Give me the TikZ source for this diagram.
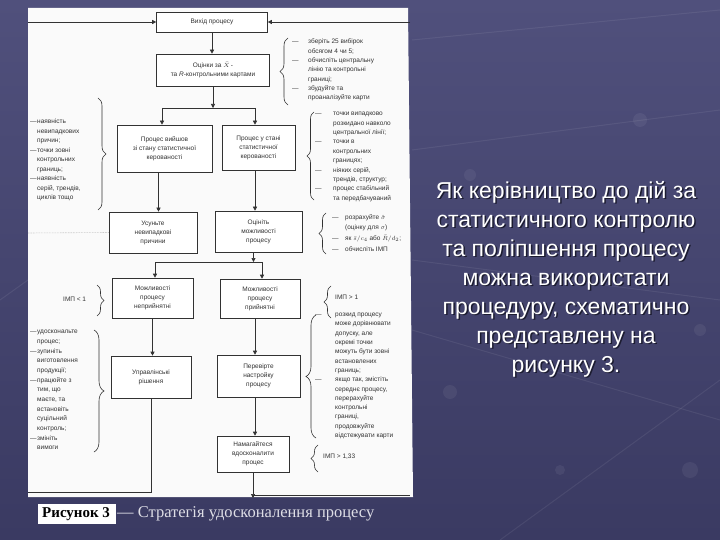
\documentclass[tikz,border=0pt]{standalone}
\usepackage{fontspec}
\setmainfont{Liberation Serif}
\newfontfamily\fcs{Liberation Sans}
\usetikzlibrary{decorations.pathreplacing,arrows.meta}
\definecolor{bgtop}{RGB}{80,80,124}
\definecolor{bgbot}{RGB}{58,58,98}
\definecolor{ink}{RGB}{50,50,50}
\definecolor{paper}{RGB}{250,250,250}
\definecolor{shadowc}{RGB}{28,28,48}
\definecolor{capc}{RGB}{222,222,230}
\newcommand{\fdash}[1]{\makebox[#1][l]{—}}
\newcommand{\findent}[1]{\hspace*{#1}}
\begin{document}
\begin{tikzpicture}[x=1pt,y=-1pt,
  box/.style={draw=ink, line width=0.6pt, fill=white, align=center,
    font=\fcs\fontsize{6.5}{9}\selectfont, text=ink, inner sep=0pt},
  note/.style={align=left, text=ink, inner sep=0pt, anchor=north west},
  arr/.style={draw=ink, line width=0.6pt, -{Triangle[length=4pt,width=4pt]}},
  ln/.style={draw=ink, line width=0.6pt},
  br/.style={draw=ink, line width=0.6pt, decorate, decoration={brace, amplitude=#1}},
  br/.default=8pt,
  deco/.style={draw=white, opacity=0.07, line width=1pt},
  dot/.style={fill=white, opacity=0.06},
]
\useasboundingbox (0,0) rectangle (720,540);
\shade[top color=bgtop, bottom color=bgbot] (0,0) rectangle (720,540);
% faint background pattern
\draw[deco] (412,40) -- (720,10);
\draw[deco] (412,150) -- (720,110);
\draw[deco] (412,260) -- (720,300);
\draw[deco] (412,330) -- (720,420);
\draw[deco] (500,540) -- (720,380);
\draw[deco] (0,300) -- (28,280);
\fill[dot] (470,175) circle (6);
\fill[dot] (640,120) circle (7);
\fill[dot] (700,330) circle (6);
\fill[dot] (450,392) circle (7);
\fill[dot] (690,470) circle (8);
\fill[dot] (560,470) circle (5);
% paper
\fill[paper] (28,8) -- (408,8) -- (413,497) -- (28,497) -- cycle;

% boxes
\node[box, minimum width=111, minimum height=20] (out) at (212,22) {Вихід процесу};
\node[box, minimum width=113, minimum height=32] (est) at (213,70) {Оцінки за $\bar{X}$\,-\\та {\itshape R}-контрольними картами};
\node[box, minimum width=95, minimum height=47] (outc) at (164.5,148.5) {Процес вийшов\\зі стану статистичної\\керованості};
\node[box, minimum width=73, minimum height=45] (inc) at (258.5,147.5) {Процес у стані\\статистичної\\керованості};
\node[box, minimum width=88, minimum height=41] (rem) at (153,232.5) {Усуньте\\невипадкові\\причини};
\node[box, minimum width=87, minimum height=41] (cap) at (258.5,231.5) {Оцініть\\можливості\\процесу};
\node[box, minimum width=81, minimum height=40] (nacc) at (152.5,298) {Можливості\\процесу\\неприйнятні};
\node[box, minimum width=80, minimum height=39] (acc) at (260,298.5) {Можливості\\процесу\\прийнятні};
\node[box, minimum width=80, minimum height=42] (mgmt) at (151,377) {Управлінські\\рішення};
\node[box, minimum width=83, minimum height=42] (chk) at (258.5,376) {Перевірте\\настройку\\процесу};
\node[box, minimum width=72, minimum height=36] (imp) at (253,454) {Намагайтеся\\вдосконалити\\процес};

% connectors
\coordinate (tl) at (28,22);
\coordinate (tr) at (410,22);
\coordinate (j1l) at (162,108);
\coordinate (j1r) at (255,108);
\coordinate (j2l) at (155,262);
\coordinate (j2r) at (262,262);
\coordinate (botl) at (28,492);
\coordinate (botr) at (410,495);
\draw[arr] (tl) -- (out.west);
\draw[arr] (tr) -- (out.east);
\draw[arr] (out.south) -- (out.south |- est.north);
\draw[arr] (est.south) -- (est.south |- j1l);
\draw[ln] (j1l) -- (j1r);
\draw[arr] (j1l) -- (j1l |- outc.north);
\draw[arr] (j1r) -- (j1r |- inc.north);
\draw[arr] ([xshift=-6pt]outc.south) -- ([xshift=-6pt]outc.south |- rem.north);
\draw[arr] ([xshift=-3.5pt]inc.south) -- ([xshift=-3.5pt]inc.south |- cap.north);
\draw[arr] ([xshift=-5pt]cap.south) -- ([xshift=-5pt]cap.south |- j2l);
\draw[ln] (j2l) -- (j2r);
\draw[arr] (j2l) -- (j2l |- nacc.north);
\draw[arr] (j2r) -- (j2r |- acc.north);
\draw[arr] (nacc.south) -- (nacc.south |- mgmt.north);
\draw[arr] ([xshift=-5pt]acc.south) -- ([xshift=-5pt]acc.south |- chk.north);
\draw[arr] ([xshift=-3.5pt]chk.south) -- ([xshift=-3.5pt]chk.south |- imp.north);
\draw[ln] (mgmt.south) -- (mgmt.south |- botl) -- (botl);
\draw[arr] (imp.south) -- ([yshift=-3pt]imp.south |- botr);
\draw[ln] (imp.south |- botr) -- (botr);
\draw[draw=gray!60, densely dotted, line width=0.6pt] (rem.west) -- (28,233);

% braces
\draw[br] (288,105) -- (288,38);
\draw[br] (98,98) -- (98,210);
\draw[br=7pt] (314,200) -- (314,112);
\draw[br=7pt] (326,254) -- (326,213);
\draw[br=7pt] (97,285) -- (97,316);
\draw[br=7pt] (331,318) -- (331,286);
\draw[br=10pt] (94,330) -- (94,452);
\draw[br=10pt] (316,438) -- (316,315);
\draw[br=7pt] (318,472) -- (318,445);

% notes
\node[note, font=\fcs\fontsize{6.5}{9.3}\selectfont] (nA) at (292,39)
 {\fdash{16pt}зберіть 25 вибірок\\\findent{16pt}обсягом 4 чи 5;\\\fdash{16pt}обчисліть центральну\\\findent{16pt}лінію та контрольні\\\findent{16pt}границі;\\\fdash{16pt}збудуйте та\\\findent{16pt}проаналізуйте карти};
\node[note, font=\fcs\fontsize{6.5}{9.5}\selectfont] (nB) at (30,119)
 {\fdash{7pt}наявність\\\findent{7pt}невипадкових\\\findent{7pt}причин;\\\fdash{7pt}точки зовні\\\findent{7pt}контрольних\\\findent{7pt}границь;\\\fdash{7pt}наявність\\\findent{7pt}серій, трендів,\\\findent{7pt}циклів тощо};
\node[note, font=\fcs\fontsize{6.5}{9.4}\selectfont] (nC) at (315,112)
 {\fdash{18pt}точки випадково\\\findent{18pt}розкидано навколо\\\findent{18pt}центральної лінії;\\\fdash{18pt}точки в\\\findent{18pt}контрольних\\\findent{18pt}границях;\\\fdash{18pt}ніяких серій,\\\findent{18pt}трендів, структур;\\\fdash{18pt}процес стабільний\\\findent{18pt}та передбачуваний};
\node[note, font=\fcs\fontsize{6.5}{10.7}\selectfont] (nD) at (332,214)
 {\fdash{13pt}розрахуйте $\hat{\sigma}$\\\findent{13pt}(оцінку для $\sigma$)\\\fdash{13pt}як $\bar{s}/c_4$ або $\bar{R}/d_2$;\\\fdash{13pt}обчисліть ІМП};
\node[anchor=west, inner sep=0pt, text=ink, font=\fcs\fontsize{6.5}{8}\selectfont] (nE) at (63,299) {ІМП < 1};
\node[anchor=west, inner sep=0pt, text=ink, font=\fcs\fontsize{6.5}{8}\selectfont] (nF) at (335,297) {ІМП > 1};
\node[note, font=\fcs\fontsize{6.5}{9.67}\selectfont] (nG) at (30,330)
 {\fdash{7pt}удоскональте\\\findent{7pt}процес;\\\fdash{7pt}зупиніть\\\findent{7pt}виготовлення\\\findent{7pt}продукції;\\\fdash{7pt}працюйте з\\\findent{7pt}тим, що\\\findent{7pt}маєте, та\\\findent{7pt}встановіть\\\findent{7pt}суцільний\\\findent{7pt}контроль;\\\fdash{7pt}змініть\\\findent{7pt}вимоги};
\node[note, font=\fcs\fontsize{6.5}{9.3}\selectfont] (nH) at (315,313)
 {\fdash{20pt}розкид процесу\\\findent{20pt}може дорівнювати\\\findent{20pt}допуску, але\\\findent{20pt}окремі точки\\\findent{20pt}можуть бути зовні\\\findent{20pt}встановлених\\\findent{20pt}границь;\\\fdash{20pt}якщо так, змістіть\\\findent{20pt}середнє процесу,\\\findent{20pt}перерахуйте\\\findent{20pt}контрольні\\\findent{20pt}границі,\\\findent{20pt}продовжуйте\\\findent{20pt}відстежувати карти};
\node[anchor=west, inner sep=0pt, text=ink, font=\fcs\fontsize{6.5}{8}\selectfont] (nI) at (323,457) {ІМП > 1,33};

% caption
\fill[white] (38,504) rectangle (116,524);
\node[anchor=base west, inner sep=0pt, font=\bfseries\fontsize{15}{17}\selectfont] (fig) at (42,517) {Рисунок 3};
\node[anchor=base west, inner sep=0pt, text=capc, font=\fontsize{16.5}{18}\selectfont] (figt) at (117,517) {— Стратегія удосконалення процесу};

% body text
\node[anchor=north, align=center, inner sep=0pt, text=shadowc, font=\fcs\fontsize{23}{29}\selectfont] (bodys) at (567.5,182.5)
 {Як керівництво до дій за\\статистичного контролю\\та поліпшення процесу\\можна використати\\процедуру, схематично\\представлену на\\рисунку 3.};
\node[anchor=north, align=center, inner sep=0pt, text=white, font=\fcs\fontsize{23}{29}\selectfont] (body) at (566,181)
 {Як керівництво до дій за\\статистичного контролю\\та поліпшення процесу\\можна використати\\процедуру, схематично\\представлену на\\рисунку 3.};
\end{tikzpicture}
\end{document}
